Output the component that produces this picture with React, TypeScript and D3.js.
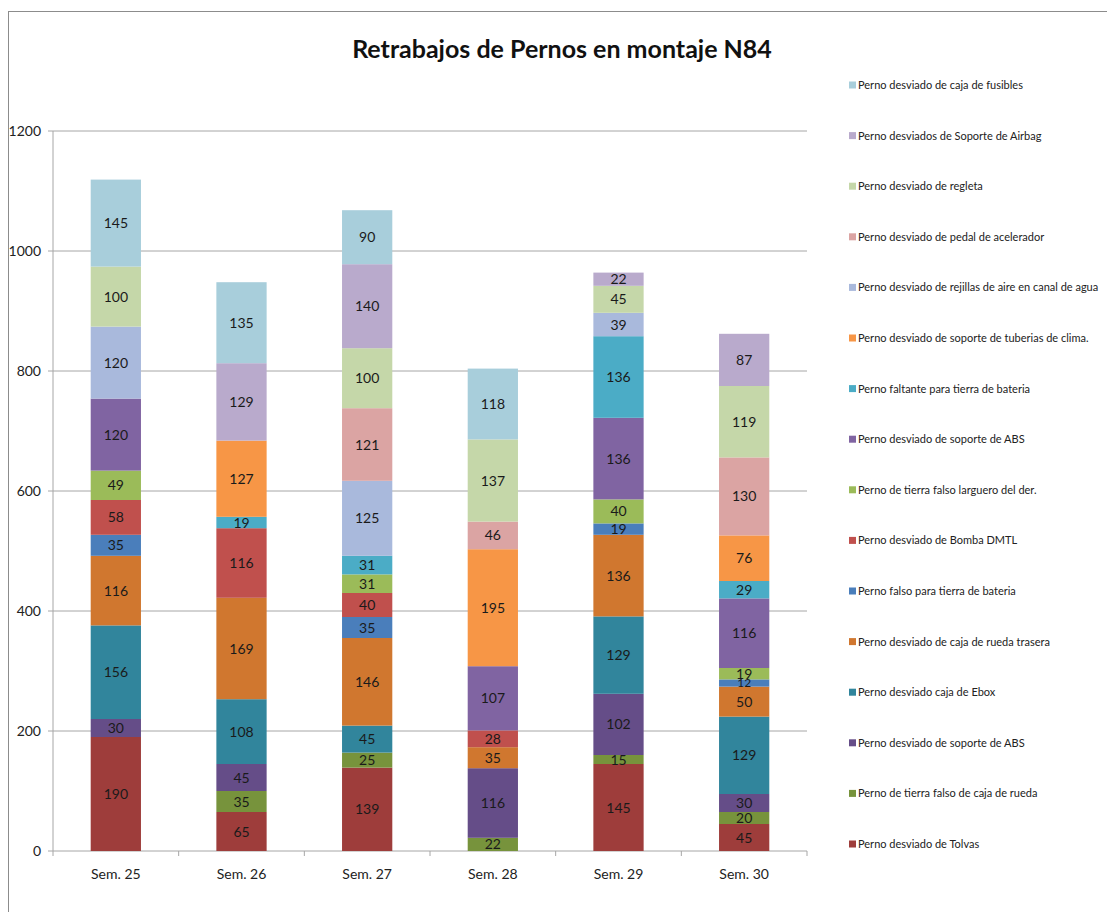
import React from "react";
import * as d3 from "d3";

const weeks = ["Sem. 25", "Sem. 26", "Sem. 27", "Sem. 28", "Sem. 29", "Sem. 30"];

// series in stacking order, bottom to top
const seriesNames = [
  "Perno desviado de Tolvas",
  "Perno de tierra falso de caja de rueda",
  "Perno desviado de  soporte de ABS",
  "Perno desviado caja de Ebox",
  "Perno desviado de caja de rueda trasera",
  "Perno falso para tierra de bateria",
  "Perno desviado de Bomba DMTL",
  "Perno de tierra falso larguero del der.",
  "Perno desviado de soporte de ABS",
  "Perno faltante para tierra de bateria",
  "Perno desviado de soporte de tuberias de clima.",
  "Perno desviado de rejillas de aire en canal de agua",
  "Perno desviado de pedal de acelerador",
  "Perno desviado de regleta",
  "Perno desviados de Soporte de Airbag",
  "Perno desviado de caja de fusibles",
];

const seriesColors = [
  "#9E3D3B", "#77933C", "#654D88", "#31859C", "#D0772F", "#4A7EBB",
  "#C0504D", "#9BBB59", "#8064A2", "#4BACC6", "#F79646", "#A9B9DC",
  "#DBA4A3", "#C5D7A9", "#B9AACC", "#A8CEDB",
];

// one row per series, one value per week
const values = [
  [190, 65, 139, 0, 145, 45],
  [0, 35, 25, 22, 15, 20],
  [30, 45, 0, 116, 102, 30],
  [156, 108, 45, 0, 129, 129],
  [116, 169, 146, 35, 136, 50],
  [35, 0, 35, 0, 19, 12],
  [58, 116, 40, 28, 0, 0],
  [49, 0, 31, 0, 40, 19],
  [120, 0, 0, 107, 136, 116],
  [0, 19, 31, 0, 136, 29],
  [0, 127, 0, 195, 0, 76],
  [120, 0, 125, 0, 39, 0],
  [0, 0, 121, 46, 0, 130],
  [100, 0, 100, 137, 45, 119],
  [0, 129, 140, 0, 22, 87],
  [145, 135, 90, 118, 0, 0],
];

const yTicks = [0, 200, 400, 600, 800, 1000, 1200];

const font = "Lato, 'Open Sans', sans-serif";

export default function App() {
  const W = 1107;
  const H = 912;
  const left = 53;
  const right = 807;
  const top = 131;
  const bottom = 851;

  const x = d3.scaleBand().domain(weeks).range([left, right]).paddingInner(0.6).paddingOuter(0.3);
  const y = d3.scaleLinear().domain([0, 1200]).range([bottom, top]);

  const rows = weeks.map((w, i) => {
    const r: any = { week: w };
    seriesNames.forEach((s, k) => (r[s] = values[k][i]));
    return r;
  });
  const stacked = d3.stack<any>().keys(seriesNames)(rows);
  const step = (right - left) / weeks.length;

  const legendOrder = [...seriesNames.keys()].reverse();

  return (
    <svg width={W} height={H} style={{ display: "block", position: "absolute", left: 0, top: 0 }}>
      <rect x={0} y={0} width={W} height={H} fill="#fff" />
      <rect x={8.5} y={11.5} width={W + 10} height={H + 10} fill="none" stroke="#8c8c8c" strokeWidth={1} />
      <text x={562} y={58} textAnchor="middle" fontFamily={font} fontWeight="bold" fontSize={25} fill="#111">
        Retrabajos de Pernos en montaje N84
      </text>

      {yTicks.map((t) => (
        <g key={t}>
          {t > 0 && <line x1={left} x2={right} y1={y(t)} y2={y(t)} stroke="#a6a6a6" strokeWidth={1} />}
          <line x1={left - 5} x2={left} y1={y(t)} y2={y(t)} stroke="#a6a6a6" />
          <text x={41} y={y(t) + 5} textAnchor="end" fontFamily={font} fontSize={14} fill="#222">
            {t}
          </text>
        </g>
      ))}
      <line x1={left} x2={left} y1={top} y2={bottom} stroke="#a6a6a6" />
      <line x1={left} x2={right} y1={bottom} y2={bottom} stroke="#a6a6a6" />
      {d3.range(weeks.length + 1).map((i) => (
        <line key={i} x1={left + i * step} x2={left + i * step} y1={bottom} y2={bottom + 5} stroke="#a6a6a6" />
      ))}

      {stacked.map((layer, k) => (
        <g key={layer.key} fill={seriesColors[k]}>
          {layer.map((d, i) =>
            d[1] - d[0] > 0 ? (
              <rect key={i} x={x(weeks[i])} y={y(d[1])} width={x.bandwidth()} height={y(d[0]) - y(d[1])} />
            ) : null
          )}
        </g>
      ))}
      {stacked.map((layer) => (
        <g key={layer.key + "l"}>
          {layer.map((d, i) => {
            const v = d[1] - d[0];
            if (v <= 0) return null;
            const small = v < 15;
            return (
              <text
                key={i}
                x={(x(weeks[i]) as number) + x.bandwidth() / 2}
                y={(y(d[0]) + y(d[1])) / 2 + (small ? 4 : 5)}
                textAnchor="middle"
                fontFamily={font}
                fontSize={small ? 12 : 14}
                fill="#1a1a1a"
              >
                {v}
              </text>
            );
          })}
        </g>
      ))}

      {weeks.map((w) => (
        <text key={w} x={(x(w) as number) + x.bandwidth() / 2} y={879} textAnchor="middle" fontFamily={font} fontSize={14} fill="#222">
          {w}
        </text>
      ))}

      {legendOrder.map((k, i) => {
        const ly = 85 + i * 50.6;
        return (
          <g key={k}>
            <rect x={849} y={ly - 3.5} width={7} height={7} fill={seriesColors[k]} />
            <text x={858} y={ly + 4} fontFamily={font} fontSize={11} fill="#222">
              {seriesNames[k]}
            </text>
          </g>
        );
      })}
    </svg>
  );
}
